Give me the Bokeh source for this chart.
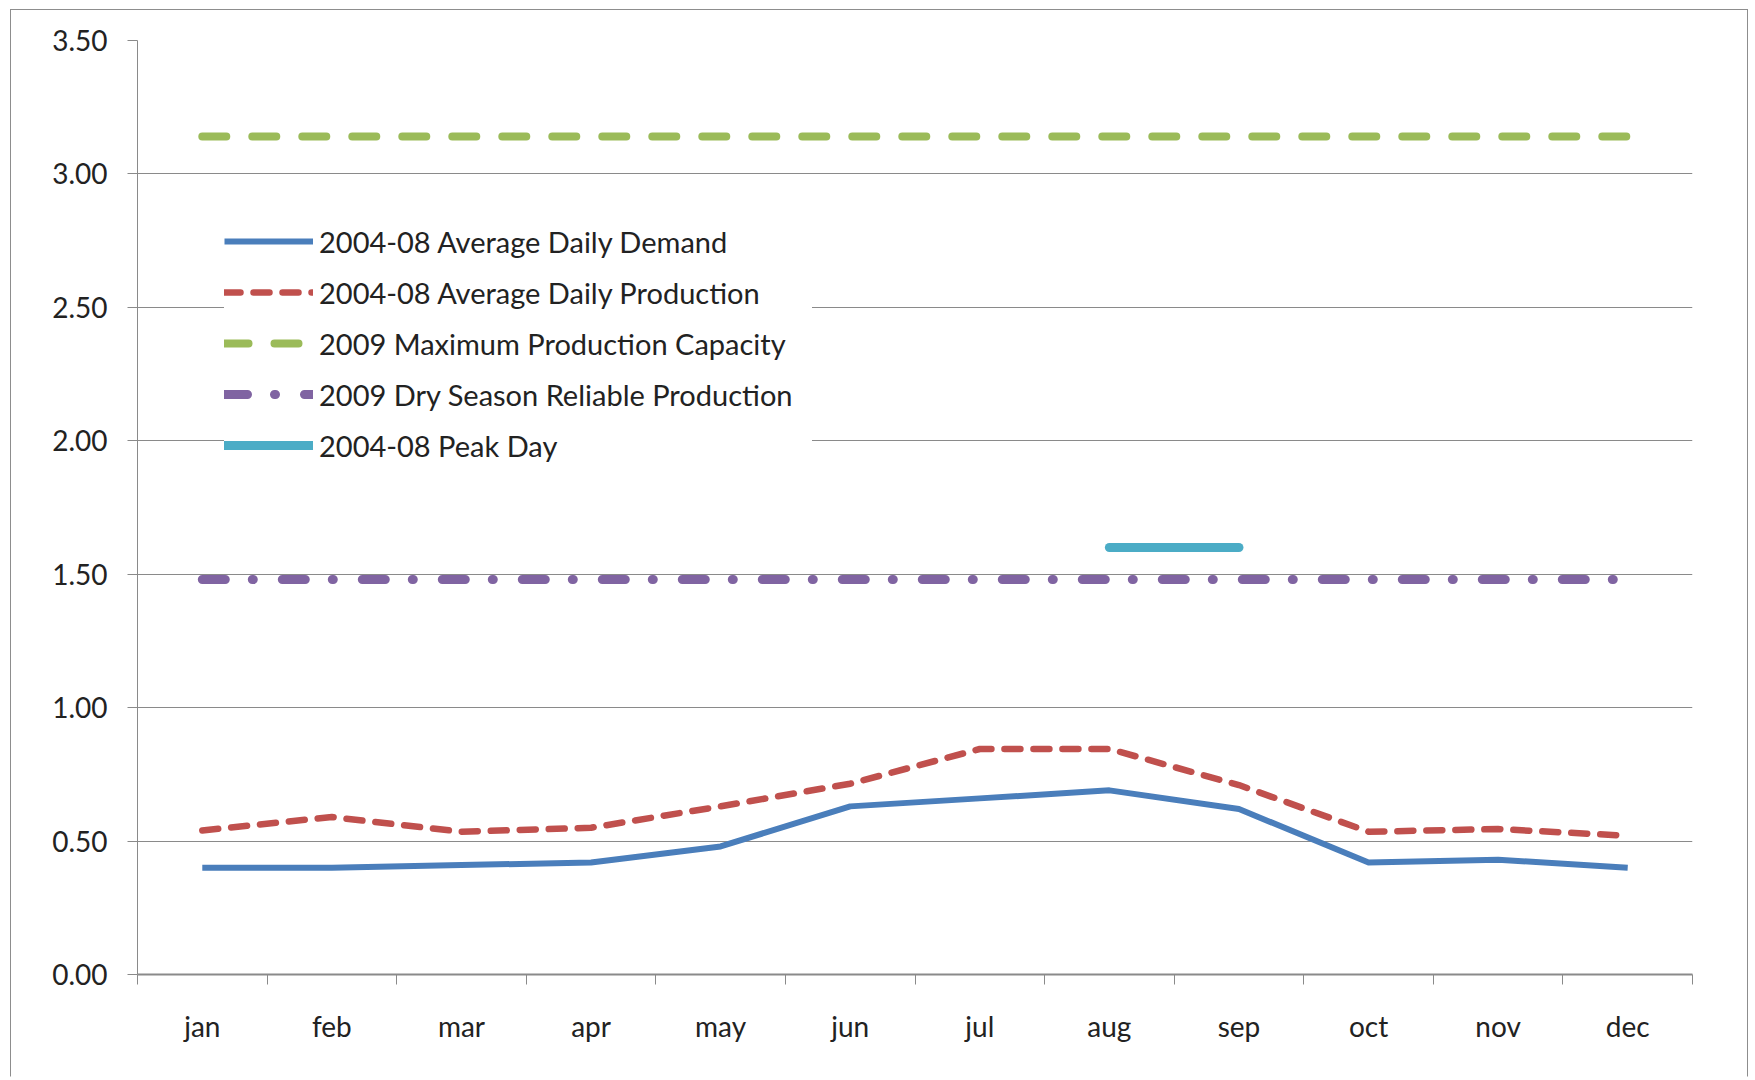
from bokeh.plotting import figure
from bokeh.models import FixedTicker, Range1d, Legend, LegendItem, NumeralTickFormatter
from bokeh.embed import file_html
from bokeh.resources import INLINE

months = ["jan", "feb", "mar", "apr", "may", "jun", "jul", "aug", "sep", "oct", "nov", "dec"]
demand = [0.40, 0.40, 0.41, 0.42, 0.48, 0.63, 0.66, 0.69, 0.62, 0.42, 0.43, 0.40]
production = [0.54, 0.59, 0.535, 0.55, 0.63, 0.715, 0.845, 0.845, 0.71, 0.535, 0.545, 0.52]
capacity = [3.14, 3.14, 3.14, 3.14, 3.14, 3.14, 3.14, 3.14, 3.14, 3.14, 3.14, 3.14]
dry_season = [1.48, 1.48, 1.48, 1.48, 1.48, 1.48, 1.48, 1.48, 1.48, 1.48, 1.48, 1.48]
peak_months = ["aug", "sep"]
peak_day = [1.60, 1.60]
y_ticks = [0.0, 0.5, 1.0, 1.5, 2.0, 2.5, 3.0, 3.5]

labels = ["2004-08 Average Daily Demand", "2004-08 Average Daily Production",
          "2009 Maximum Production Capacity", "2009 Dry Season Reliable Production",
          "2004-08 Peak Day"]

pos = {m: i + 0.5 for i, m in enumerate(months)}
xm = [pos[m] for m in months]
xp = [pos[m] for m in peak_months]

FONT = "Lato"
TXT = "#222222"
GRID = "#8a8a8a"

p = figure(width=1738, height=1068, output_backend="svg", toolbar_location=None,
           x_range=Range1d(0, 12), y_range=Range1d(0, 3.5),
           min_border_left=126, min_border_top=30, min_border_right=57, min_border_bottom=104)
p.styles = {"border-left": "1px solid #8d8d8d", "border-top": "1px solid #8d8d8d",
            "border-right": "1px solid #8d8d8d", "border-bottom": "1px solid white",
            "margin-left": "10px", "margin-top": "9px"}
p.outline_line_color = None
p.background_fill_color = "white"
p.border_fill_color = "white"

# axes
p.xaxis.ticker = FixedTicker(ticks=xm, minor_ticks=list(range(13)))
p.xaxis.major_label_overrides = {v: m for v, m in zip(xm, months)}
p.xaxis.major_tick_out = 0
p.xaxis.major_tick_in = 0
p.xaxis.minor_tick_out = 10
p.xaxis.minor_tick_in = 0
p.xaxis.minor_tick_line_color = GRID
p.xaxis.minor_tick_line_width = 1
p.xaxis.axis_line_color = GRID
p.xaxis.axis_line_width = 2
p.xaxis.major_label_standoff = 24
p.xaxis.major_label_text_font = FONT
p.xaxis.major_label_text_font_size = "28px"
p.xaxis.major_label_text_color = TXT
p.xgrid.grid_line_color = None

p.yaxis.ticker = FixedTicker(ticks=y_ticks)
p.yaxis.formatter = NumeralTickFormatter(format="0.00")
p.yaxis.major_tick_out = 10
p.yaxis.major_tick_in = 0
p.yaxis.minor_tick_line_color = None
p.yaxis.major_tick_line_color = GRID
p.yaxis.axis_line_color = GRID
p.yaxis.major_label_standoff = 20
p.yaxis.major_label_text_font = FONT
p.yaxis.major_label_text_font_size = "28px"
p.yaxis.major_label_text_color = TXT
p.ygrid.grid_line_color = GRID
p.ygrid.grid_line_width = 1

# series
r_cap = p.line(xm, capacity, line_color="#9BBB59", line_width=8, line_cap="round",
               line_dash="24 26")
r_dry = p.line(xm, dry_season, line_color="#8064A2", line_width=9, line_cap="round",
               line_dash="23 27 1 29")
r_prod = p.line(xm, production, line_color="#C0504D", line_width=6.5, line_cap="round",
                line_join="round", line_dash="16 13")
r_dem = p.line(xm, demand, line_color="#4A7EBB", line_width=6, line_join="round")
r_peak = p.line(xp, peak_day, line_color="#4BACC6", line_width=9, line_cap="round")

legend = Legend(items=[LegendItem(label=labels[0], renderers=[r_dem]),
                       LegendItem(label=labels[1], renderers=[r_prod]),
                       LegendItem(label=labels[2], renderers=[r_cap]),
                       LegendItem(label=labels[3], renderers=[r_dry]),
                       LegendItem(label=labels[4], renderers=[r_peak])],
                location=(87, 511))
legend.glyph_width = 89
legend.glyph_height = 36
legend.label_height = 36
legend.label_width = 493
legend.label_standoff = 6
legend.spacing = 15
legend.padding = 12
legend.margin = 0
legend.border_line_color = None
legend.background_fill_color = "white"
legend.background_fill_alpha = 1.0
legend.label_text_font = FONT
legend.label_text_font_size = "29px"
legend.label_text_color = TXT
p.add_layout(legend, "center")

open("out.html", "w").write(file_html(p, INLINE))
